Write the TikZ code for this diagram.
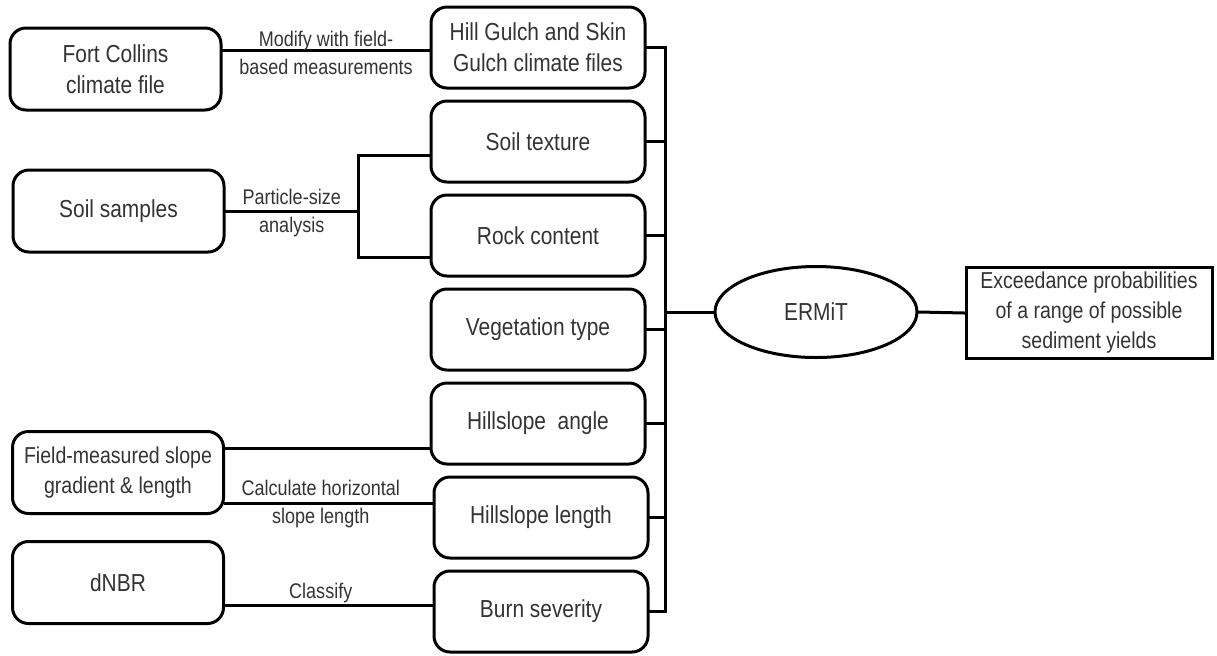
\documentclass[tikz,border=0pt]{standalone}
\usepackage{fontspec}
\setmainfont{Liberation Sans}[FakeStretch=0.85]
\usepackage{tikz}
\usetikzlibrary{positioning, shapes.geometric}
\tikzset {
    node distance=5pt,
    inbox/.style={draw, rounded corners=8pt, minimum width=107pt, minimum height=40.5pt,
        align=center, text=black!80, inner sep=2pt, font=\fontsize{12.3}{15.5}\selectfont},
    srcbox/.style={inbox, minimum width=105.5pt, minimum height=41pt},
    model/.style={draw, ellipse, minimum width=101pt, minimum height=45.5pt,
        text=black!80, font=\fontsize{12.3}{15.5}\selectfont},
    outbox/.style={draw, minimum width=123pt, minimum height=45.5pt, inner sep=2pt,
        align=center, text=black!80, font=\fontsize{11.5}{15}\selectfont},
    lbl/.style={align=center, text=black!80, inner sep=1pt, font=\fontsize{10.6}{14}\selectfont}
}

\begin{document}
\begin{tikzpicture}[x=0.5pt, y=-0.5pt, line width=1.5pt, line cap=rect]
                    \useasboundingbox (0,0) rectangle (1217,655);

                    \node[inbox] (hg) at (538,47.5) {Hill Gulch and Skin\\Gulch climate files};
                    \node[inbox, below=of hg] (st) {Soil texture};
                    \node[inbox, below=of st] (rc) {Rock content};
                    \node[inbox, below=of rc] (vt) {Vegetation type};
                    \node[inbox, below=of vt] (ha) {Hillslope~ angle};
                    \node[inbox, below=of ha, xshift=1.5pt] (hl) {Hillslope length};
                    \node[inbox, below=of hl] (bs) {Burn severity};

                    \node[srcbox] (fc) at (115.5,69) {Fort Collins\\climate file};
                    \node[srcbox] (ss) at (118.5,211) {Soil samples};
                    \node[srcbox, font=\fontsize{11.5}{15}\selectfont] (fm) at (118,472.5) {Field-measured slope\\gradient \& length};
                    \node[srcbox] (dn) at (118,582.5) {dNBR};

                    \node[model] (er) at (816,312) {ERMiT};
                    \node[outbox] (ex) at (1089,313) {Exceedance probabilities\\of a range of possible\\sediment yields};

                    \coordinate (bus) at (665,0);
                    \coordinate (yc) at (0,50);
                    \coordinate (fork) at (358,211);
                    \coordinate (fork1) at (358,155);
                    \coordinate (fork2) at (358,257);
                    \coordinate (ya) at (0,448);
                    \coordinate (yl) at (0,503);
                    \coordinate (yb) at (0,605);

                    \foreach \n in {hg, st, rc, vt, ha, hl, bs}
                        \draw (\n.east) -- (\n.east -| bus);
                    \draw (hg.east -| bus) -- (bs.east -| bus);
                    \draw (er.west -| bus) -- (er.west);
                    \draw (er.east) -- (ex.west);

                    \draw (fc.east |- yc) -- (hg.west |- yc)
                        node[lbl, midway, yshift=-1.5pt] {Modify with field-\\based measurements};
                    \draw (ss.east |- fork) -- (fork)
                        node[lbl, midway, yshift=-1pt] {Particle-size\\analysis};
                    \draw (fork1 -| st.west) -- (fork1) -- (fork2) -- (fork2 -| rc.west);
                    \draw (fm.east |- ya) -- (ha.west |- ya);
                    \draw (fm.east |- yl) -- (hl.west |- yl)
                        node[lbl, midway, xshift=-4pt, yshift=-0.5pt] {Calculate horizontal\\slope length};
                    \draw (dn.east |- yb) -- (bs.west |- yb)
                        node[lbl, midway, above, xshift=-4pt, inner sep=0.5pt] {Classify};
\end{tikzpicture}
\end{document}
